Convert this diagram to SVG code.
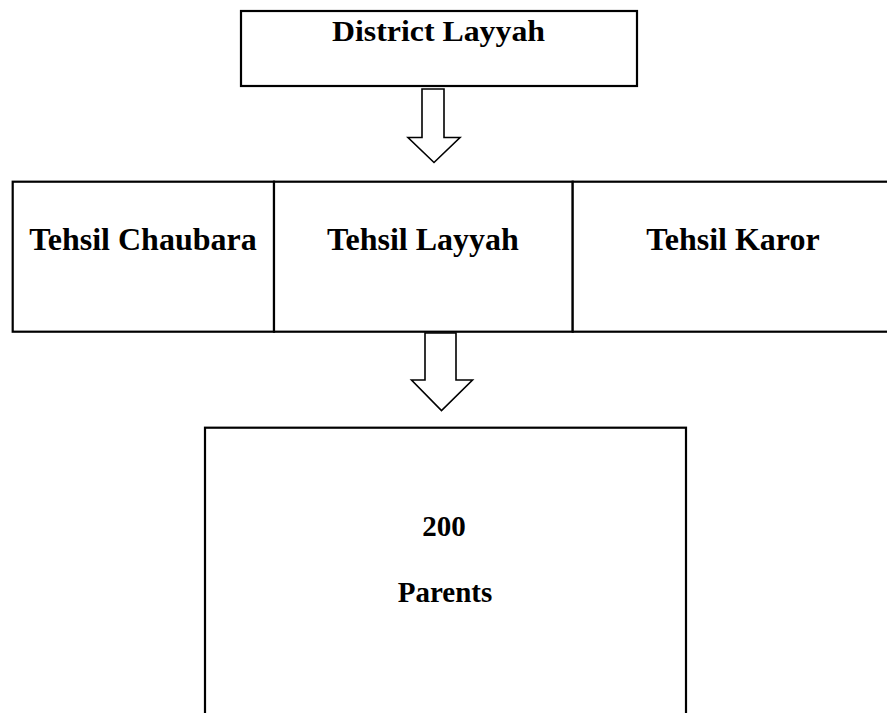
<svg xmlns="http://www.w3.org/2000/svg" width="887" height="713" viewBox="0 0 887 713">
<style>
.box{fill:#fff;stroke:#000;stroke-width:2.2}
.arrow{fill:#fff;stroke:#000;stroke-width:1.6;stroke-linejoin:miter}
.t{font-family:"Liberation Serif","Times New Roman",serif;font-weight:bold;fill:#000;text-anchor:middle}
</style>
<rect width="887" height="713" fill="#fff"/>
<g id="connectors">
<polygon class="arrow" points="422,89 444,89 444,137.5 460,137.5 434,162.5 408,137.5 422,137.5"/>
<polygon class="arrow" points="425,333 456,333 456,380 472.5,380 441.5,410.5 411.5,380 425,380"/>
</g>
<g id="district">
<rect class="box" x="241" y="11" width="396" height="75"/>
<text class="t" x="438.5" y="41" font-size="29" textLength="213" lengthAdjust="spacingAndGlyphs">District Layyah</text>
</g>
<g id="tehsil-chaubara">
<rect class="box" x="12.7" y="181.7" width="261.3" height="150"/>
<text class="t" x="143" y="250" font-size="32">Tehsil Chaubara</text>
</g>
<g id="tehsil-layyah">
<rect class="box" x="274" y="181.7" width="298.7" height="150"/>
<text class="t" x="423" y="250" font-size="32">Tehsil Layyah</text>
</g>
<g id="tehsil-karor">
<rect class="box" x="572.7" y="181.7" width="330" height="150"/>
<text class="t" x="733" y="250" font-size="32">Tehsil Karor</text>
</g>
<g id="parents">
<rect class="box" x="205" y="427.7" width="481" height="300"/>
<text class="t" x="444" y="536" font-size="29">200</text>
<text class="t" x="445" y="602" font-size="29">Parents</text>
</g>
</svg>
